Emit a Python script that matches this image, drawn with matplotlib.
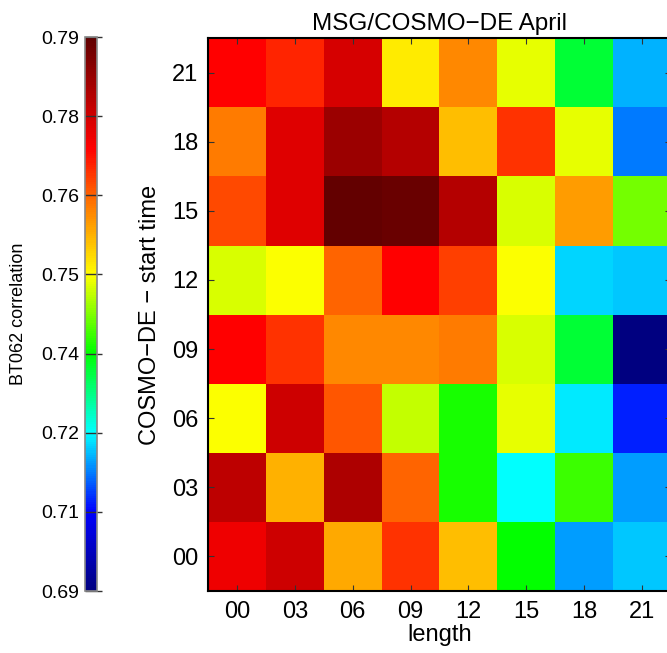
import numpy as np
import matplotlib
matplotlib.use("Agg")
import matplotlib.pyplot as plt
from matplotlib.colors import LinearSegmentedColormap

plt.rcParams['font.family'] = ['Liberation Sans', 'DejaVu Sans']

# forecast length (columns) and COSMO-DE start time (rows, bottom to top)
lengths = ["00", "03", "06", "09", "12", "15", "18", "21"]
start_times = ["00", "03", "06", "09", "12", "15", "18", "21"]

# BT062 correlation, one list per start time
corr_00 = [0.773, 0.777, 0.757, 0.767, 0.755, 0.736, 0.717, 0.719]
corr_03 = [0.779, 0.756, 0.781, 0.763, 0.737, 0.722, 0.739, 0.717]
corr_06 = [0.749, 0.777, 0.764, 0.746, 0.737, 0.748, 0.721, 0.710]
corr_09 = [0.771, 0.767, 0.760, 0.760, 0.761, 0.747, 0.733, 0.6945]
corr_12 = [0.747, 0.749, 0.763, 0.771, 0.766, 0.749, 0.720, 0.719]
corr_15 = [0.765, 0.775, 0.790, 0.789, 0.780, 0.747, 0.758, 0.742]
corr_18 = [0.761, 0.775, 0.783, 0.780, 0.755, 0.767, 0.748, 0.715]
corr_21 = [0.771, 0.768, 0.776, 0.751, 0.760, 0.748, 0.733, 0.718]

vmin, vmax = 0.6945, 0.7905

data = np.array([corr_00, corr_03, corr_06, corr_09,
                 corr_12, corr_15, corr_18, corr_21])

# IDL-like rainbow
cmap = LinearSegmentedColormap.from_list("idl_rainbow", [
    (0.0, "#000080"), (0.143, "#0000ff"), (0.286, "#00ffff"),
    (0.43, "#00ff00"), (0.57, "#ffff00"), (0.69, "#ff8000"),
    (0.80, "#ff0000"), (1.0, "#600000")])

fig = plt.figure(figsize=(6.67, 6.53), dpi=100)
ax = fig.add_axes([208 / 667, 1 - 591 / 653, 463 / 667, 553 / 653])
cax = fig.add_axes([85 / 667, 1 - 591 / 653, 12 / 667, 554 / 653])

im = ax.imshow(data, cmap=cmap, vmin=vmin, vmax=vmax, origin='lower',
               aspect='auto', interpolation='nearest')

ax.set_xticks(np.arange(len(lengths)))
ax.set_xticklabels(lengths)
ax.set_yticks(np.arange(len(start_times)))
ax.set_yticklabels(start_times)
ax.tick_params(direction='in', length=4, width=0.8, top=True, right=True,
               labelsize=17, pad=7, color='#333333')
for s in ax.spines.values():
    s.set_linewidth(1.5)
ax.set_xlabel("length", fontsize=17, labelpad=1)
ax.set_ylabel("COSMO\u2212DE \u2212 start time", fontsize=17, labelpad=8)
ax.set_title("MSG/COSMO\u2212DE April", fontsize=17.5, pad=6)

cb = fig.colorbar(im, cax=cax, ticks=np.linspace(vmin, vmax, 8), format='%.2f')
cax.yaxis.set_ticks_position('left')
cax.yaxis.set_label_position('left')
cax.tick_params(direction='in', length=12, width=1, color='#333333',
                labelsize=14, pad=4)
cb.outline.set_edgecolor('#888888')
cb.outline.set_linewidth(1.2)
cb.set_label("BT062 correlation", fontsize=13, labelpad=10)

fig.savefig("out.png", dpi=100)
